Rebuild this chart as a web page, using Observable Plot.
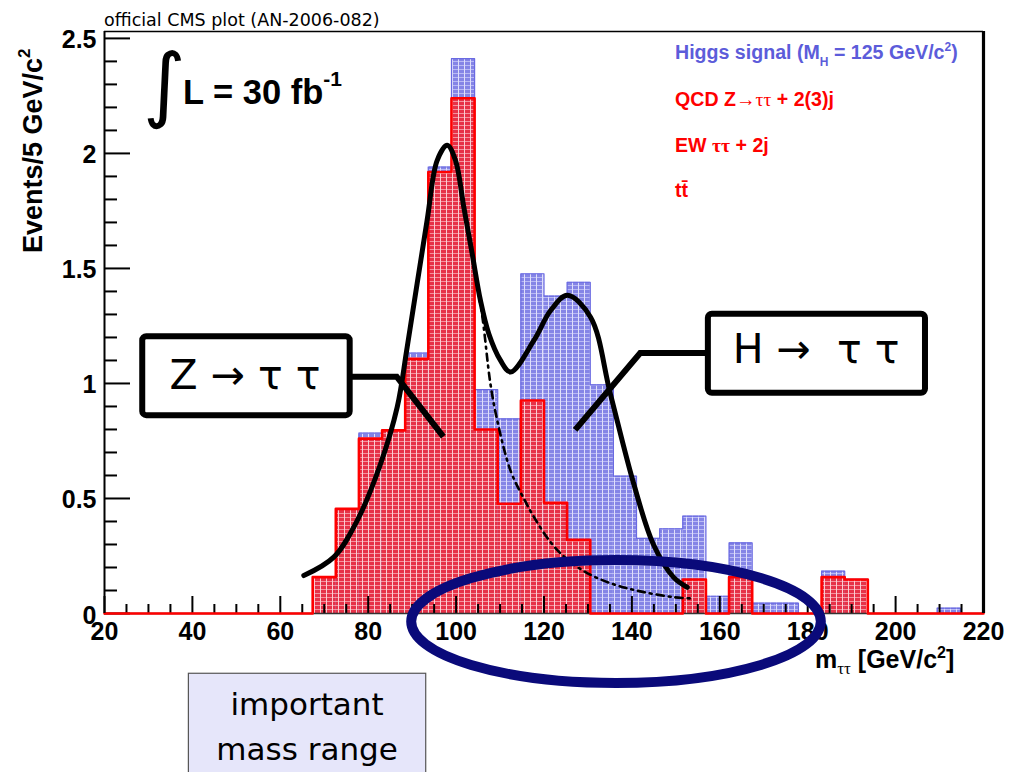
<!DOCTYPE html>
<html>
<head>
<meta charset="utf-8">
<script src="https://cdn.jsdelivr.net/npm/d3@7"></script>
<script src="https://cdn.jsdelivr.net/npm/@observablehq/plot@0.6"></script>
<style>
  html, body { margin: 0; padding: 0; background: #fff; overflow: hidden; }
  #chart svg { display: block; }
</style>
</head>
<body>
<div id="chart"></div>
<script>
// Lower edges of the 38 mass bins (GeV/c²); the last bin closes at 220
const binLow = [20.00, 25.26, 30.53, 35.79, 41.05, 46.32, 51.58, 56.84, 62.11, 67.37,
                72.63, 77.89, 83.16, 88.42, 93.68, 98.95, 104.21, 109.47, 114.74, 120.00,
                125.26, 130.53, 135.79, 141.05, 146.32, 151.58, 156.84, 162.11, 167.37, 172.63,
                177.89, 183.16, 188.42, 193.68, 198.95, 204.21, 209.47, 214.74];
const binHigh = 220;

// Summed backgrounds (QCD Z→ττ + 2(3)j, EW ττ + 2j, tt̄), events per bin
const background = [0, 0, 0, 0, 0, 0, 0, 0, 0, 0.158,
                    0.455, 0.76, 0.796, 1.107, 1.919, 2.24, 0.80, 0.477, 0.926, 0.481,
                    0.32, 0, 0, 0, 0, 0.148, 0, 0.158, 0, 0,
                    0, 0.158, 0.148, 0, 0, 0, 0, 0];

// Higgs signal (M_H = 125 GeV/c²), stacked on top of the backgrounds
const higgs = [0, 0, 0, 0, 0, 0, 0, 0, 0, 0,
               0, 0.024, 0, 0.025, 0.022, 0.172, 0.173, 0.369, 0.551, 0.899,
               1.12, 0.994, 0.597, 0.327, 0.368, 0.275, 0.075, 0.149, 0.045, 0.045,
               0, 0.026, 0, 0, 0, 0, 0.023, 0];

// Fit to signal + background (solid)
const fitMass   = [65.35, 72.17, 77.5, 82.8, 86.6, 88.87, 93.4, 95.7, 97.97, 99.86,
                   101.75, 103.66, 105.55, 107.44, 110.1, 112.4, 117.7, 121.5, 125.3, 130.6,
                   135.1, 140.4, 144.9, 149.5, 152.6];
const fitEvents = [0.165, 0.245, 0.404, 0.65, 0.897, 1.158, 1.709, 1.97, 2.035, 1.97,
                   1.767, 1.564, 1.36, 1.216, 1.10, 1.05, 1.187, 1.317, 1.383, 1.288,
                   0.955, 0.565, 0.30, 0.157, 0.114];

// Fit to the Z→ττ component alone (dash-dotted)
const zFitMass   = [72.17, 77.5, 82.8, 86.6, 88.87, 93.4, 95.7, 97.97, 99.86, 101.75,
                    103.66, 105.9, 107.8, 109.35, 112.4, 115.4, 117.7, 121.5, 125.3, 130.6,
                    136.65, 142.7, 149.5, 154.0];
const zFitEvents = [0.245, 0.404, 0.65, 0.897, 1.158, 1.709, 1.97, 2.035, 1.97, 1.767,
                    1.55, 1.30, 1.0, 0.84, 0.62, 0.50, 0.42, 0.31, 0.235, 0.168,
                    0.122, 0.093, 0.071, 0.065];

// Axis ticks and labels
const xMajor = [20, 40, 60, 80, 100, 120, 140, 160, 180, 200, 220];
const xMinor = [25, 30, 35, 45, 50, 55, 65, 70, 75, 85, 90, 95, 105, 110, 115, 125, 130, 135,
                145, 150, 155, 165, 170, 175, 185, 190, 195, 205, 210, 215];
const yMajor = [0, 0.5, 1, 1.5, 2, 2.5];
const yMinor = [0.1, 0.2, 0.3, 0.4, 0.6, 0.7, 0.8, 0.9, 1.1, 1.2, 1.3, 1.4,
                1.6, 1.7, 1.8, 1.9, 2.1, 2.2, 2.3, 2.4];

// ---------------------------------------------------------------------------
const bins = binLow.map((lo, i) => ({
  lo,
  hi: i < binLow.length - 1 ? binLow[i + 1] : binHigh,
  bkg: background[i],
  total: background[i] + higgs[i]
}));
const stepOutline = key => bins.flatMap(b => [{m: b.lo, v: b[key]}, {m: b.hi, v: b[key]}]);
const fit = fitMass.map((m, i) => ({m, v: fitEvents[i]}));
const zFit = zFitMass.map((m, i) => ({m, v: zFitEvents[i]}));

const frameW = 879, frameH = 582;
const helv = "'Liberation Sans', Arial, Helvetica, sans-serif";
const verdana = "'DejaVu Sans', Verdana, sans-serif";

const chart = Plot.plot({
  width: 1013,
  height: 772,
  marginTop: 31, marginRight: 30, marginBottom: 159, marginLeft: 104,
  style: {fontFamily: helv, background: "white", overflow: "hidden"},
  x: {domain: [20, 220], axis: null},
  y: {domain: [0, 2.53], axis: null},
  marks: [
    // stacked histogram: total (signal on top), then background
    Plot.rect(bins.filter(b => b.total > 0), {x1: "lo", x2: "hi", y1: 0, y2: "total", fill: "url(#higgsFill)"}),
    Plot.line(stepOutline("total"), {x: "m", y: "v", stroke: "#6a6ae2", strokeWidth: 1.2}),
    Plot.rect(bins.filter(b => b.bkg > 0), {x1: "lo", x2: "hi", y1: 0, y2: "bkg", fill: "url(#bkgFill)"}),
    // axis ticks drawn inside the frame
    Plot.tickX(xMinor, {x: d => d, insetTop: frameH - 9, stroke: "black", strokeWidth: 2}),
    Plot.tickX(xMajor, {x: d => d, insetTop: frameH - 17, stroke: "black", strokeWidth: 2}),
    Plot.tickY(yMinor, {y: d => d, insetRight: frameW - 13, stroke: "black", strokeWidth: 2}),
    Plot.tickY(yMajor, {y: d => d, insetRight: frameW - 26, stroke: "black", strokeWidth: 2}),
    Plot.ruleY([0], {stroke: "#333", strokeWidth: 1.5}),
    Plot.line(stepOutline("bkg"), {x: "m", y: "v", stroke: "#ff0000", strokeWidth: 2.6}),
    // fits
    Plot.line(zFit, {x: "m", y: "v", stroke: "black", strokeWidth: 2.6, strokeDasharray: "7,5,2,5", curve: "catmull-rom"}),
    Plot.line(fit, {x: "m", y: "v", stroke: "black", strokeWidth: 5, curve: "catmull-rom"}),
    // frame
    Plot.ruleY([2.53], {stroke: "black", strokeWidth: 1.6}),
    Plot.ruleX([20], {stroke: "black", strokeWidth: 2}),
    Plot.ruleX([220], {stroke: "black", strokeWidth: 3.2}),
    // tick labels
    Plot.text(xMajor, {x: d => d, frameAnchor: "bottom", lineAnchor: "top", dy: 9,
                       text: d => String(d), fontSize: 25, fontWeight: "bold", fill: "black"}),
    Plot.text(yMajor, {y: d => d, frameAnchor: "left", textAnchor: "end", dx: -8, dy: 2,
                       text: d => String(d), fontSize: 25, fontWeight: "bold", fill: "black"})
  ]
});

document.getElementById("chart").appendChild(chart);

// ---------------------------------------------------------------------------
// Fill patterns (grid-like hatching)
const svg = d3.select(chart);
const defs = svg.insert("defs", ":first-child");
function gridPattern(id, base, vLine, hLine) {
  const p = defs.append("pattern").attr("id", id)
    .attr("patternUnits", "userSpaceOnUse").attr("width", 6).attr("height", 4);
  p.append("rect").attr("width", 6).attr("height", 4).attr("fill", base);
  p.append("rect").attr("x", 2).attr("width", 1).attr("height", 4).attr("fill", vLine).attr("fill-opacity", 0.75);
  p.append("rect").attr("y", 1).attr("width", 6).attr("height", 1).attr("fill", hLine).attr("fill-opacity", 0.6);
}
gridPattern("bkgFill", "#e63248", "#ffffff", "#ffd0d6");
gridPattern("higgsFill", "#8585e6", "#ffffff", "#dcdcff");

const sx = chart.scale("x"), sy = chart.scale("y");
const X = v => sx.apply(v), Y = v => sy.apply(v);
const layer = svg.append("g").attr("text-anchor", "start");

// header line
layer.append("text").attr("x", X(20)).attr("y", 26)
  .attr("font-family", verdana).attr("font-size", 17.5)
  .attr("fill", "black").text("official CMS plot (AN-2006-082)");

// y axis title
const yt = layer.append("text")
  .attr("transform", `translate(${X(20) - 62},253) rotate(-90)`)
  .attr("font-family", helv).attr("font-weight", "bold").attr("font-size", 27).attr("fill", "black");
yt.append("tspan").text("Events/5 GeV/c");
yt.append("tspan").attr("font-size", 17).attr("dy", -12).text("2");

// x axis title
const xt = layer.append("text").attr("x", 815).attr("y", 668)
  .attr("font-family", helv).attr("font-weight", "bold").attr("font-size", 25).attr("fill", "black");
xt.append("tspan").text("m");
xt.append("tspan").attr("font-size", 17).attr("dy", 6).attr("font-family", "'Liberation Serif', serif")
  .attr("font-weight", "normal").text("ττ");
xt.append("tspan").attr("dy", -6).text(" [GeV/c");
xt.append("tspan").attr("font-size", 16).attr("dy", -10).text("2");
xt.append("tspan").attr("dy", 10).text("]");

// luminosity
layer.append("text").attr("x", 143).attr("y", 112)
  .attr("font-family", verdana).attr("font-size", 82).attr("fill", "black")
  .text("∫");
const lum = layer.append("text").attr("x", 183).attr("y", 104)
  .attr("font-family", helv).attr("font-weight", "bold").attr("font-size", 34.5).attr("fill", "black");
lum.append("tspan").text("L = 30 fb");
lum.append("tspan").attr("font-size", 21).attr("dy", -18).text("-1");

// legend
const legX = 675;
const legSize = 19.6;
const leg1 = layer.append("text").attr("x", legX).attr("y", 59)
  .attr("font-family", helv).attr("font-weight", "bold").attr("font-size", legSize).attr("fill", "#5c5cda");
leg1.append("tspan").text("Higgs signal (M");
leg1.append("tspan").attr("font-size", 12).attr("dy", 7).text("H");
leg1.append("tspan").attr("dy", -7).text(" = 125 GeV/c");
leg1.append("tspan").attr("font-size", 12).attr("dy", -8).text("2");
leg1.append("tspan").attr("dy", 8).text(")");

const leg2 = layer.append("text").attr("x", legX).attr("y", 106)
  .attr("font-family", helv).attr("font-weight", "bold").attr("font-size", legSize).attr("fill", "#ff0000");
leg2.append("tspan").text("QCD Z");
leg2.append("tspan").attr("font-family", "'Liberation Serif', serif").attr("font-weight", "normal").text("→ττ");
leg2.append("tspan").text(" + 2(3)j");

const leg3 = layer.append("text").attr("x", legX).attr("y", 152)
  .attr("font-family", helv).attr("font-weight", "bold").attr("font-size", legSize).attr("fill", "#ff0000");
leg3.append("tspan").text("EW ");
leg3.append("tspan").attr("font-family", "'Liberation Serif', serif").text("ττ");
leg3.append("tspan").text(" + 2j");

layer.append("text").attr("x", legX).attr("y", 197)
  .attr("font-family", helv).attr("font-weight", "bold").attr("font-size", legSize).attr("fill", "#ff0000")
  .text("tt\u0304");

// callouts (positions in GeV/c², events)
const callouts = [
  {label: "Z → τ τ", box: [28.7, 75.9, 0.860, 1.203], text: [52.1, 0.974],
   pointer: [[75.9, 1.027], [86.6, 1.027], [97.2, 0.767]]},
  {label: "H →  τ τ", box: [157.4, 206.8, 0.957, 1.301], text: [182.0, 1.087],
   pointer: [[157.4, 1.130], [142.0, 1.130], [127.2, 0.796]]}
];
for (const c of callouts) {
  layer.append("polyline")
    .attr("points", c.pointer.map(([m, v]) => `${X(m)},${Y(v)}`).join(" "))
    .attr("fill", "none").attr("stroke", "black").attr("stroke-width", 6)
    .attr("stroke-linejoin", "miter");
  const [m1, m2, v1, v2] = c.box;
  layer.append("rect").attr("x", X(m1)).attr("y", Y(v2))
    .attr("width", X(m2) - X(m1)).attr("height", Y(v1) - Y(v2))
    .attr("rx", 4).attr("fill", "white").attr("stroke", "black").attr("stroke-width", 6);
  layer.append("text").attr("x", X(c.text[0])).attr("y", Y(c.text[1]))
    .attr("text-anchor", "middle").attr("font-family", verdana)
    .attr("font-size", 41).attr("fill", "black").style("white-space", "pre").text(c.label);
}

// "important mass range" note below the axis
const note = {box: [39.2, 93.2], top: -0.262, text: 66.2, lines: [["important", -0.443], ["mass range", -0.639]]};
layer.append("rect").attr("x", X(note.box[0])).attr("y", Y(note.top))
  .attr("width", X(note.box[1]) - X(note.box[0])).attr("height", 200)
  .attr("fill", "#e6e6fa").attr("stroke", "#555").attr("stroke-width", 1.2);
for (const [t, v] of note.lines) {
  layer.append("text").attr("x", X(note.text)).attr("y", Y(v)).attr("text-anchor", "middle")
    .attr("font-family", verdana).attr("font-size", 31)
    .attr("fill", "black").text(t);
}

// highlighted mass window
const ring = {m: 136.5, v: -0.037, dm: 46.6, dv: 0.267};
layer.append("ellipse")
  .attr("cx", X(ring.m)).attr("cy", Y(ring.v))
  .attr("rx", X(ring.m + ring.dm) - X(ring.m)).attr("ry", Y(ring.v) - Y(ring.v + ring.dv))
  .attr("fill", "none").attr("stroke", "#0a0a7a").attr("stroke-width", 10);
</script>
</body>
</html>
